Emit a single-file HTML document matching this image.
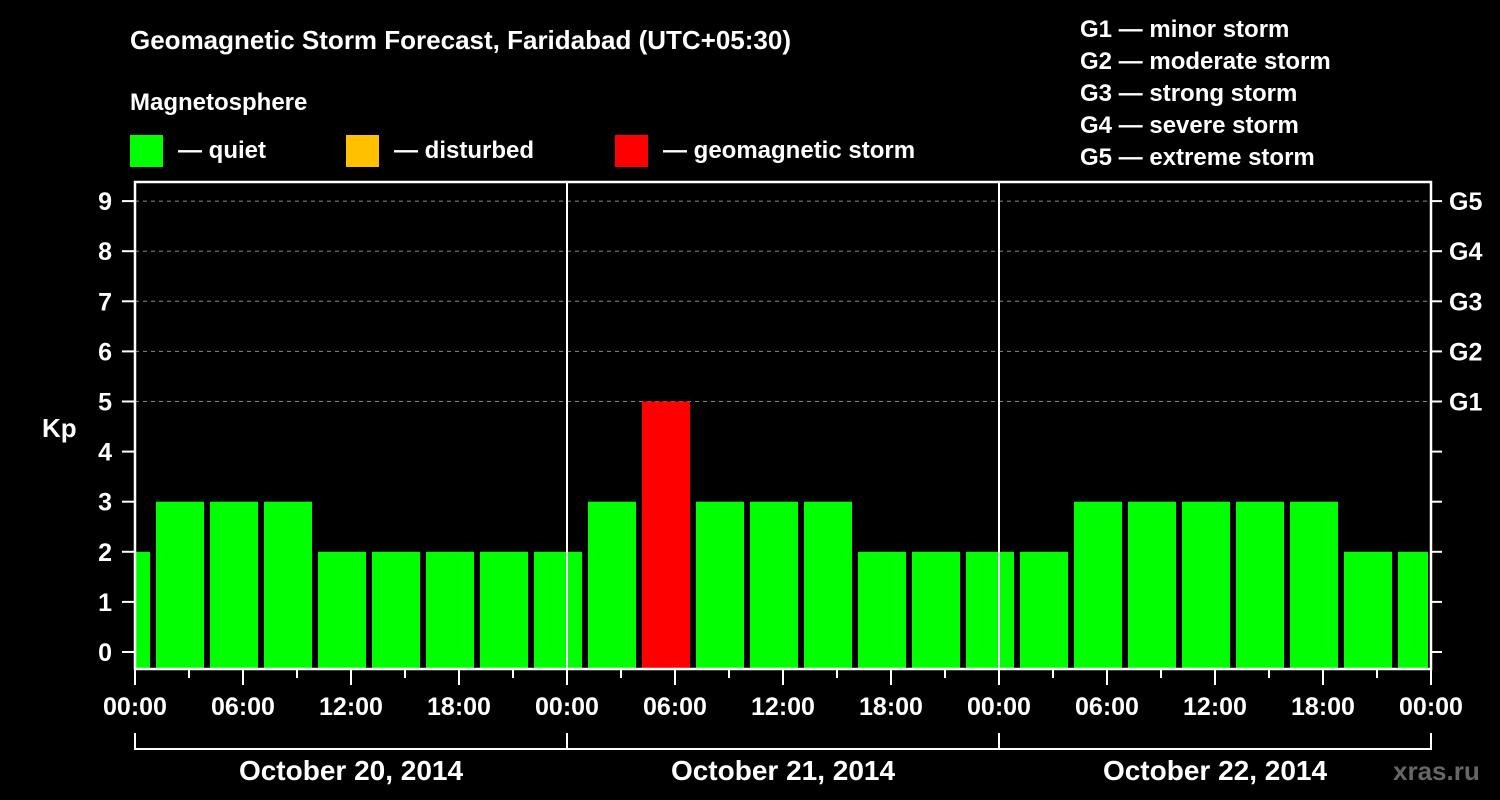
<!DOCTYPE html>
<html><head><meta charset="utf-8"><style>
html,body{margin:0;padding:0;background:#000;}
svg{display:block;font-family:"Liberation Sans",Arial,sans-serif;font-weight:bold;}
</style></head><body>
<svg id="chart" width="1500" height="800" viewBox="0 0 1500 800">
<rect width="1500" height="800" fill="#000"/>
<text x="130" y="49" font-size="26" fill="#fff">Geomagnetic Storm Forecast, Faridabad (UTC+05:30)</text>
<text x="130" y="110" font-size="24" fill="#fff">Magnetosphere</text>
<g><rect x="130" y="135" width="33" height="32" fill="#00ff00"/><text x="178" y="158" font-size="24" fill="#fff">— quiet</text></g>
<g><rect x="346" y="135" width="33" height="32" fill="#ffc000"/><text x="394" y="158" font-size="24" fill="#fff">— disturbed</text></g>
<g><rect x="615" y="135" width="33" height="32" fill="#ff0000"/><text x="663" y="158" font-size="24" fill="#fff">— geomagnetic storm</text></g>
<g font-size="24" fill="#fff">
<text x="1080" y="37">G1 — minor storm</text>
<text x="1080" y="69">G2 — moderate storm</text>
<text x="1080" y="101">G3 — strong storm</text>
<text x="1080" y="133">G4 — severe storm</text>
<text x="1080" y="165">G5 — extreme storm</text>
</g>
<text x="42" y="437" font-size="26" fill="#fff">Kp</text>
<text x="1393" y="780" font-size="26" fill="#666">xras.ru</text>
<g id="grid"></g><g id="bars"></g><g id="axes"></g>
</svg>
<script>
const kpValues = [2,3,3,3,2,2,2,2,2,3,5,3,3,3,2,2,2,2,3,3,3,3,3,2,2];
const xTickLabels = ["00:00","06:00","12:00","18:00","00:00","06:00","12:00","18:00","00:00","06:00","12:00","18:00","00:00"];
const dayLabels = ["October 20, 2014","October 21, 2014","October 22, 2014"];
const yTickLabels = ["0","1","2","3","4","5","6","7","8","9"];
const gLabels = ["G1","G2","G3","G4","G5"];
const NS="http://www.w3.org/2000/svg";
const X0=135,X1=1431,Y0=652,PY=50.1,TOTALH=72,PTOP=182,PBOT=669;
const xs=h=>X0+(X1-X0)*h/TOTALH;
const ys=v=>Y0-v*PY;
function mk(tag,attrs,parent){const e=document.createElementNS(NS,tag);for(const k in attrs)e.setAttribute(k,attrs[k]);document.getElementById(parent).appendChild(e);return e;}
// grid
for(let v=5;v<=9;v++){
 const l=mk('line',{x1:X0,x2:X1,y1:ys(v),y2:ys(v),stroke:'#888','stroke-width':1,'stroke-dasharray':'4,4'},'grid');
 
 
}
// bars
kpValues.forEach((v,i)=>{
 const c=-0.5+3*i;
 let l=xs(c)-24,r=xs(c)+24;
 l=Math.max(l,X0+1);r=Math.min(r,X1-3);
 const col=v>=5?'#ff0000':(v>=4?'#ffc000':'#00ff00');
 const b=mk('rect',{x:l,y:ys(v),width:r-l,height:PBOT-ys(v),fill:col},'bars');
 
 
});
// day separators
[24,48].forEach(h=>{const l=mk('line',{x1:xs(h),x2:xs(h),y1:PTOP,y2:PBOT,stroke:'#fff','stroke-width':2},'axes');
 
 });
// frame
const f=mk('rect',{x:X0,y:PTOP,width:X1-X0,height:PBOT-PTOP,fill:'none',stroke:'#fff','stroke-width':2.5},'axes');


// y ticks
yTickLabels.forEach((t,v)=>{
 mk('line',{x1:122,x2:X0,y1:ys(v),y2:ys(v),stroke:'#fff','stroke-width':2},'axes');
 mk('line',{x1:X1,x2:1442,y1:ys(v),y2:ys(v),stroke:'#fff','stroke-width':2},'axes');
 const tx=mk('text',{x:112,y:ys(v)+9,'font-size':25,fill:'#fff','text-anchor':'end'},'axes');
 tx.textContent=t;
 
 
});
gLabels.forEach((t,i)=>{
 const tx=mk('text',{x:1449,y:ys(5+i)+9,'font-size':25,fill:'#fff'},'axes');
 tx.textContent=t;
 
 
});
// x ticks
for(let h=0;h<=TOTALH;h+=3){
 const big=h%6===0;
 mk('line',{x1:xs(h),x2:xs(h),y1:PBOT,y2:big?685:678,stroke:'#fff','stroke-width':2},'axes');
}
xTickLabels.forEach((t,i)=>{
 const tx=mk('text',{x:xs(i*6),y:715,'font-size':25,fill:'#fff','text-anchor':'middle'},'axes');
 tx.textContent=t;
 
 
});
// day bracket
mk('path',{d:`M${xs(0)},733 V749 H${xs(72)} V733`,fill:'none',stroke:'#fff','stroke-width':2},'axes');
[24,48].forEach(h=>mk('line',{x1:xs(h),x2:xs(h),y1:733,y2:749,stroke:'#fff','stroke-width':2},'axes'));
dayLabels.forEach((t,i)=>{
 const tx=mk('text',{x:xs(i*24+12),y:780,'font-size':28,fill:'#fff','text-anchor':'middle'},'axes');
 tx.textContent=t;
 
 
});
</script>
</body></html>
